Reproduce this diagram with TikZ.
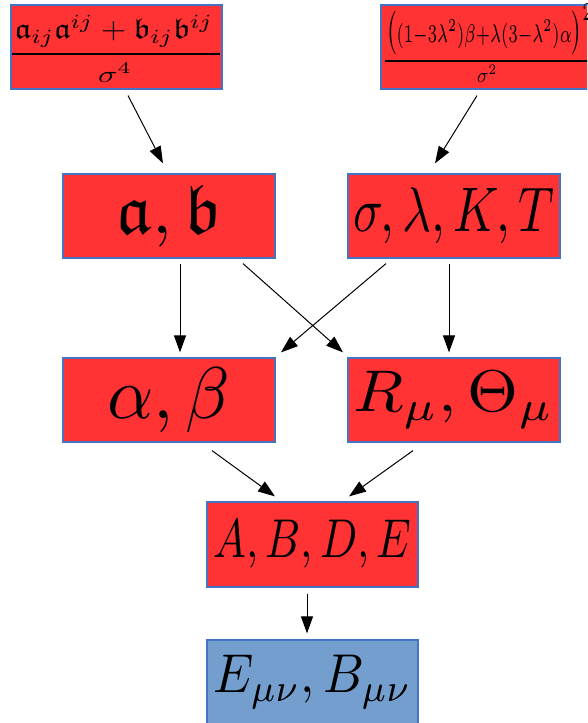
\documentclass[tikz,border=0pt]{standalone}
\usepackage{amsmath}
\usepackage{amssymb}
\usepackage{graphicx}
\usetikzlibrary{arrows.meta}

\definecolor{boxred}{RGB}{255,51,51}
\definecolor{boxblue}{RGB}{115,158,206}
\definecolor{edgeblue}{RGB}{68,114,196}

\tikzset{
  stage/.style={draw=edgeblue, fill=boxred, line width=1.2pt,
    minimum width=212pt, minimum height=84pt, inner sep=0pt},
  result/.style={stage, fill=boxblue},
  term/.style={inner sep=0pt},
  fracrule/.style={line width=2.4pt},
  flow/.style={line width=1pt, -{Triangle[length=17pt,width=12pt]}}
}

\begin{document}
\begin{tikzpicture}[x=1pt,y=-1pt]
  \useasboundingbox (0,0) rectangle (587,723);
  \clip (0,0) rectangle (587,723);

  % input expressions: boxes, then numerator / rule / denominator
  \node[stage, minimum width=211pt] (tl) at (116.5,47) {};
  \node[term] (tlnum) at (114,31)
    {\resizebox*{198pt}{32pt}{$\mathfrak{a}_{ij}\mathfrak{a}^{ij}+\mathfrak{b}_{ij}\mathfrak{b}^{ij}$}};
  \draw[fracrule] (12,54) -- (220,54);
  \node[term] (tlden) at (115,72.5)
    {\resizebox*{34pt}{19pt}{$\sigma^4$}};

  \node[stage, minimum width=219pt] (tr) at (490.5,47) {};
  \node[term] (trnum) at (489.5,29.5)
    {\resizebox*{207pt}{51pt}{${\big(}{\scriptstyle(1-3\lambda^2)\beta+\lambda(3-\lambda^2)\alpha}{\big)}^{2}$}};
  \draw[fracrule] (385,61) -- (600,61);
  \node[term] (trden) at (487,73.5)
    {\resizebox*{20pt}{17pt}{$\sigma^2$}};

  % parameters
  \node[stage] (ab) at (169,216)
    {\resizebox*{104pt}{62pt}{$\mathfrak{a},\mathfrak{b}$}};
  \node[stage] (sl) at (454,216)
    {\resizebox*{201pt}{56pt}{$\sigma,\lambda,K,T$}};

  % intermediate quantities
  \node[stage] (al) at (169,400)
    {\resizebox*{123pt}{65pt}{$\alpha,\beta$}};
  \node[stage] (rt) at (454,400)
    {\resizebox*{200pt}{57pt}{$R_\mu,\Theta_\mu$}};

  % coefficients and fields
  \node[stage, minimum width=211pt, minimum height=85pt] (ce) at (312.5,544.5)
    {\resizebox*{198pt}{48pt}{$A,B,D,E$}};
  \node[result, minimum width=211pt] (em) at (312.5,682)
    {\resizebox*{198pt}{53pt}{$E_{\mu\nu},B_{\mu\nu}$}};

  % connectors
  \draw[flow] ([xshift=11.5pt,yshift=-6pt]tl.south) -- ([xshift=-6pt,yshift=10pt]ab.north);
  \draw[flow] ([xshift=-13.5pt,yshift=-6pt]tr.south) -- ([xshift=-19pt,yshift=10pt]sl.north);
  \draw[flow] ([xshift=11pt,yshift=-5pt]ab.south) -- ([xshift=11pt,yshift=5pt]al.north);
  \draw[flow] ([xshift=74pt,yshift=-5pt]ab.south) -- ([xshift=-111pt,yshift=5pt]rt.north);
  \draw[flow] ([xshift=-68pt,yshift=-5pt]sl.south) -- ([xshift=112pt,yshift=5pt]al.north);
  \draw[flow] ([xshift=-5pt,yshift=-5pt]sl.south) -- ([xshift=-5pt,yshift=5pt]rt.north);
  \draw[flow] ([xshift=43pt,yshift=-8pt]al.south) -- ([xshift=-37.5pt,yshift=5pt]ce.north);
  \draw[flow] ([xshift=-41pt,yshift=-8pt]rt.south) -- ([xshift=36.5pt,yshift=5pt]ce.north);
  \draw[flow] ([xshift=-5.5pt,yshift=-6pt]ce.south) -- ([xshift=-5.5pt,yshift=6pt]em.north);
\end{tikzpicture}
\end{document}
